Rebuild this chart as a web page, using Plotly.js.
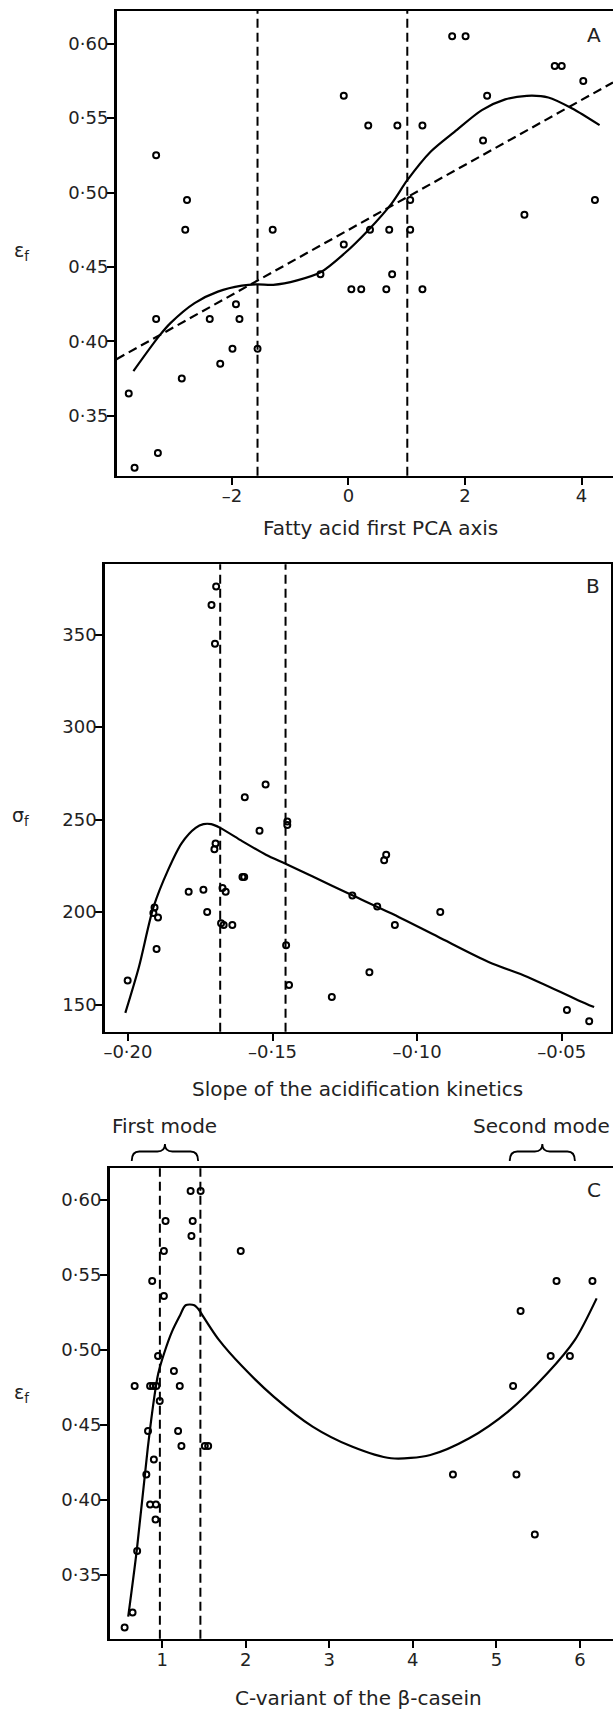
<!DOCTYPE html>
<html>
<head>
<meta charset="utf-8">
<script src="https://cdn.plot.ly/plotly-3.0.1.min.js"></script>
<style>html,body{margin:0;padding:0;background:#fff;}#chart{width:613px;height:1709px;}</style>
</head>
<body>
<div id="chart"></div>
<script>
// ---------- Panel A: fatty acid first PCA axis vs strain at fracture ----------
const aPointsX = [-3.30,-2.77,-2.80,-1.30,-0.08,0.34,0.84,1.27,1.78,2.01,2.38,2.31,3.54,3.66,4.03,4.23,3.02,1.06,1.06,0.37,0.70,-0.08,-0.48,0.75,0.05,0.22,0.65,1.27,-3.30,-2.38,-1.87,-1.93,-1.99,-1.56,-2.20,-2.86,-3.77,-3.27,-3.67];
const aPointsY = [0.525,0.495,0.475,0.475,0.565,0.545,0.545,0.545,0.605,0.605,0.565,0.535,0.585,0.585,0.575,0.495,0.485,0.495,0.475,0.475,0.475,0.465,0.445,0.445,0.435,0.435,0.435,0.435,0.415,0.415,0.415,0.425,0.395,0.395,0.385,0.375,0.365,0.325,0.315];
const aSmoothX = [-3.69,-3.25,-3.05,-2.64,-2.24,-1.83,-1.56,-1.29,-0.88,-0.47,-0.07,0.34,0.74,1.01,1.41,1.82,2.29,2.69,3.06,3.43,3.84,4.31];
const aSmoothY = [0.380,0.4035,0.4124,0.4257,0.4334,0.4374,0.4383,0.4380,0.4410,0.4466,0.4590,0.4747,0.4926,0.5083,0.5274,0.5408,0.5554,0.5626,0.5650,0.5639,0.5565,0.5453];
const aLinearX = [-3.98, 4.54];
const aLinearY = [0.388, 0.574];
const aCuts = [-1.56, 1.01];
const aXTickVals = [-2, 0, 2, 4];
const aXTickText = ['–2', '0', '2', '4'];
const aYTickVals = [0.35, 0.40, 0.45, 0.50, 0.55, 0.60];
const aYTickText = ['0·35', '0·40', '0·45', '0·50', '0·55', '0·60'];

// ---------- Panel B: slope of acidification kinetics vs stress at fracture ----------
const bPointsX = [-0.1695,-0.1711,-0.1699,-0.1524,-0.1596,-0.1545,-0.1449,-0.1449,-0.1697,-0.1701,-0.1107,-0.1114,-0.1604,-0.1598,-0.1790,-0.1739,-0.1673,-0.1662,-0.1224,-0.1138,-0.1726,-0.1908,-0.1912,-0.1896,-0.0920,-0.1678,-0.1669,-0.1639,-0.1077,-0.1901,-0.1453,-0.1165,-0.1443,-0.2001,-0.1295,-0.0482,-0.0405];
const bPointsY = [376,366,345,269,262,244,249,247,237,234,231,228,219,219,211,212,213,211,209,203,200,202.5,199.5,197,200,194,193,193,193,180,182,167.5,160.5,163,154,147,141];
const bSmoothX = [-0.2009,-0.1962,-0.1912,-0.1861,-0.1814,-0.1766,-0.1739,-0.1712,-0.1681,-0.1604,-0.1523,-0.1455,-0.1361,-0.1226,-0.1090,-0.0928,-0.0753,-0.0618,-0.0442,-0.0388];
const bSmoothY = [145.5,170.3,202.5,222.8,237.3,245.5,247.5,247.5,245.5,238.2,231.0,226.1,219.2,209.2,199.3,186.6,173.0,164.9,152.2,148.6];
const bCuts = [-0.1681, -0.1455];
const bXTickVals = [-0.20, -0.15, -0.10, -0.05];
const bXTickText = ['–0·20', '–0·15', '–0·10', '–0·05'];
const bYTickVals = [150, 200, 250, 300, 350];
const bYTickText = ['150', '200', '250', '300', '350'];

// ---------- Panel C: C-variant of beta-casein vs strain at fracture ----------
const cPointsX = [1.34,1.46,1.04,1.365,1.35,1.02,1.94,0.88,1.02,5.72,6.15,5.29,0.95,5.65,5.88,1.14,0.67,0.855,0.89,0.93,1.21,5.20,0.97,0.83,1.19,1.23,1.51,1.55,0.90,0.81,4.48,5.24,0.855,0.925,0.92,5.46,0.70,0.645,0.55];
const cPointsY = [0.606,0.606,0.586,0.586,0.576,0.566,0.566,0.546,0.536,0.546,0.546,0.526,0.496,0.496,0.496,0.486,0.476,0.476,0.476,0.476,0.476,0.476,0.466,0.446,0.446,0.436,0.436,0.436,0.427,0.417,0.417,0.417,0.397,0.397,0.387,0.377,0.366,0.325,0.315];
const cRiseX = [0.593,0.696,0.827,0.906,0.953,1.023,1.117,1.21,1.28,1.384,1.454];
const cRiseY = [0.3222,0.3667,0.4345,0.4689,0.4844,0.4978,0.5122,0.5227,0.5298,0.5298,0.5256];
const cFallX = [1.454,1.679,1.96,2.334,2.80,3.27,3.74,4.21,4.675,5.14,5.61,5.94,6.20];
const cFallY = [0.5256,0.5067,0.4889,0.4689,0.4489,0.4356,0.4278,0.4300,0.4411,0.4589,0.4844,0.5067,0.5344];
const cCuts = [0.972, 1.457];
const cXTickVals = [1, 2, 3, 4, 5, 6];
const cXTickText = ['1', '2', '3', '4', '5', '6'];
const cYTickVals = [0.35, 0.40, 0.45, 0.50, 0.55, 0.60];
const cYTickText = ['0·35', '0·40', '0·45', '0·50', '0·55', '0·60'];
const modeLabels = ['First mode', 'Second mode'];
const modeSpans = [[0.635, 1.43], [5.16, 5.94]];

// ---------- helpers ----------
const W = 613, H = 1709;
const px = v => v / W;
const py = v => 1 - v / H;
const INK = '#222';

function markers(x, y, ax) {
  return {x, y, xaxis: ax[0], yaxis: ax[1], type: 'scatter', mode: 'markers', hoverinfo: 'skip',
    marker: {symbol: 'circle-open', size: 6, color: '#000', line: {width: 2, color: '#000'}}};
}
function curve(x, y, ax, dash, shape) {
  return {x, y, xaxis: ax[0], yaxis: ax[1], type: 'scatter', mode: 'lines', hoverinfo: 'skip',
    line: {color: '#000', width: 2.2, dash: dash || 'solid', shape: shape || 'spline', smoothing: 0.8}};
}
function ax(domain, range, vals, text, anchor, standoff) {
  return {domain, range, tickvals: vals, ticktext: text, ticks: 'outside', ticklen: 7, tickwidth: 2,
    tickcolor: '#000', showline: true, mirror: true, linewidth: 2.5, linecolor: '#000', showgrid: false,
    zeroline: false, anchor, tickfont: {size: 18, color: INK}, fixedrange: true,
    ticklabelstandoff: standoff};
}

const traces = [
  curve(aLinearX, aLinearY, ['x', 'y'], '9px,5px', 'linear'),
  curve(aSmoothX, aSmoothY, ['x', 'y']),
  markers(aPointsX, aPointsY, ['x', 'y']),
  curve(bSmoothX, bSmoothY, ['x2', 'y2']),
  markers(bPointsX, bPointsY, ['x2', 'y2']),
  curve(cRiseX, cRiseY, ['x3', 'y3']),
  curve(cFallX, cFallY, ['x3', 'y3']),
  markers(cPointsX, cPointsY, ['x3', 'y3'])
];

const shapes = [];
function cuts(vals, xr, yr) {
  vals.forEach(v => shapes.push({type: 'line', xref: xr, yref: yr + ' domain', x0: v, x1: v, y0: 0, y1: 1,
    line: {color: '#000', width: 2, dash: '9px,5px'}}));
}
cuts(aCuts, 'x', 'y');
cuts(bCuts, 'x2', 'y2');
cuts(cCuts, 'x3', 'y3');

// braces above panel C
const yTip = py(1161), yBar = py(1151.5), yPeak = py(1144);
modeSpans.forEach(s => {
  const x0 = s[0], x1 = s[1], xm = (x0 + x1) / 2, d = 0.09;
  const p = `M ${x0},${yTip} Q ${x0},${yBar} ${x0 + d},${yBar} L ${xm - d},${yBar} Q ${xm},${yBar} ${xm},${yPeak} ` +
            `Q ${xm},${yBar} ${xm + d},${yBar} L ${x1 - d},${yBar} Q ${x1},${yBar} ${x1},${yTip}`;
  shapes.push({type: 'path', xref: 'x3', yref: 'paper', path: p, line: {color: '#000', width: 1.8}});
});

function note(text, x, y, size, opts) {
  return Object.assign({text, xref: 'paper', yref: 'paper', x: px(x), y: py(y), showarrow: false,
    xanchor: 'center', yanchor: 'middle', font: {size: size || 20, color: INK}}, opts || {});
}
const annotations = [
  note('A', 594, 35, 20),
  note('B', 593, 586, 20),
  note('C', 594, 1190, 20),
  note('ε<sub>f</sub>', 21, 251, 19),
  note('σ<sub>f</sub>', 20, 817, 19),
  note('ε<sub>f</sub>', 21, 1393, 19),
  note('Fatty acid first PCA axis', 380, 528, 20),
  note('Slope of the acidification kinetics', 357, 1089, 20),
  note('C-variant of the β-casein', 358, 1698, 20),
  Object.assign(note(modeLabels[0], 0, 1126, 20), {xref: 'x3', x: (modeSpans[0][0] + modeSpans[0][1]) / 2}),
  Object.assign(note(modeLabels[1], 0, 1126, 20), {xref: 'x3', x: 5.54})
];

const layout = {
  width: W, height: H, margin: {l: 0, r: 0, t: 0, b: 0, pad: 0},
  paper_bgcolor: '#fff', plot_bgcolor: '#fff', showlegend: false,
  font: {family: 'DejaVu Sans, sans-serif', size: 18, color: INK},
  xaxis: ax([px(116.5), 1.0], [-3.98, 4.54], aXTickVals, aXTickText, 'y', -5),
  yaxis: ax([py(475.7), py(11)], [0.3097, 0.622], aYTickVals, aYTickText, 'x', -5),
  xaxis2: ax([px(104.8), px(610.6)], [-0.208, -0.0331], bXTickVals, bXTickText, 'y2', -5),
  yaxis2: ax([py(1031.7), py(564.3)], [135.3, 388], bYTickVals, bYTickText, 'x2', -5),
  xaxis3: ax([px(109.5), 1.0], [0.369, 6.396], cXTickVals, cXTickText, 'y3', -4),
  yaxis3: ax([py(1638.7), py(1168.3)], [0.3075, 0.6211], cYTickVals, cYTickText, 'x3', -5),
  shapes, annotations
};

Plotly.newPlot('chart', traces, layout, {staticPlot: true, displayModeBar: false});
</script>
</body>
</html>
